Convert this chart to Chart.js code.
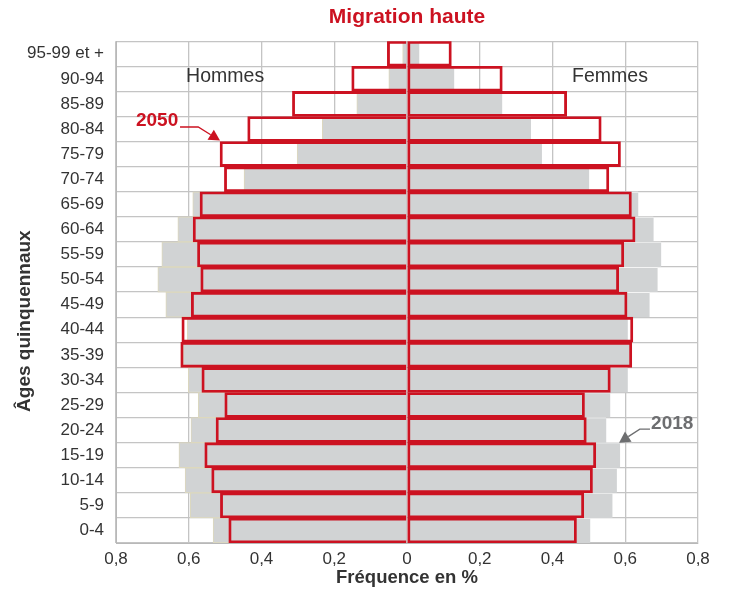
<!DOCTYPE html>
<html>
<head>
<meta charset="utf-8">
<script src="https://cdn.jsdelivr.net/npm/chart.js@4"></script>
<style>
  html, body { margin: 0; padding: 0; background: #fff; }
  #wrap { width: 729px; height: 592px; }
</style>
</head>
<body>
<div id="wrap"><canvas id="pyramid" width="729" height="592"></canvas></div>
<script>
// age groups, bottom to top
const ages = ['0-4', '5-9', '10-14', '15-19', '20-24', '25-29', '30-34', '35-39', '40-44', '45-49',
  '50-54', '55-59', '60-64', '65-69', '70-74', '75-79', '80-84', '85-89', '90-94', '95-99 et +'];

// share of the population, in %
const hommes2018 = [0.533, 0.596, 0.610, 0.627, 0.594, 0.574, 0.601, 0.616, 0.604, 0.663,
  0.685, 0.674, 0.630, 0.589, 0.448, 0.302, 0.233, 0.138, 0.050, 0.012];
const femmes2018 = [0.504, 0.565, 0.577, 0.586, 0.548, 0.559, 0.607, 0.612, 0.607, 0.667,
  0.689, 0.699, 0.678, 0.636, 0.501, 0.371, 0.341, 0.262, 0.130, 0.034];
const hommes2050 = [0.490, 0.513, 0.537, 0.556, 0.525, 0.501, 0.564, 0.622, 0.619, 0.593,
  0.567, 0.576, 0.588, 0.569, 0.502, 0.514, 0.438, 0.315, 0.152, 0.054];
const femmes2050 = [0.466, 0.486, 0.510, 0.519, 0.493, 0.488, 0.559, 0.618, 0.621, 0.605,
  0.582, 0.596, 0.627, 0.617, 0.555, 0.587, 0.534, 0.439, 0.262, 0.122];

const xTicks = [-0.8, -0.6, -0.4, -0.2, 0, 0.2, 0.4, 0.6, 0.8];

const RED = '#cc1221';
const GREY = '#d1d3d4';
const TEXT = '#333333';
const FONT = "'Liberation Sans', Arial, sans-serif";

Chart.defaults.font.family = FONT;
Chart.defaults.color = TEXT;

// side labels, y title and the two little arrows
const notes = {
  id: 'notes',
  afterDatasetsDraw(chart) {
    const ctx = chart.ctx;
    const x = chart.scales.x, y = chart.scales.y;
    const half = Math.abs(y.getPixelForValue(0) - y.getPixelForValue(1)) / 2;
    ctx.save();
    ctx.textBaseline = 'middle';
    ctx.textAlign = 'center';
    ctx.fillStyle = TEXT;
    ctx.font = '19.5px ' + FONT;
    ctx.fillText('Hommes', x.getPixelForValue(-0.5), y.getPixelForValue(18) - 2);
    ctx.fillText('Femmes', x.getPixelForValue(0.558), y.getPixelForValue(18) - 2);

    // y axis title
    ctx.save();
    ctx.translate(25, (y.top + y.bottom) / 2 + 29);
    ctx.rotate(-Math.PI / 2);
    ctx.font = 'bold 19px ' + FONT;
    ctx.fillText('Âges quinquennaux', 0, 0);
    ctx.restore();

    function arrow(color, x0, y0, xm, xt, yt) {
      ctx.strokeStyle = color;
      ctx.fillStyle = color;
      ctx.lineWidth = 1.3;
      const ang = Math.atan2(yt - y0, xt - xm);
      const bx = xt - 11 * Math.cos(ang), by = yt - 11 * Math.sin(ang);
      ctx.beginPath();
      ctx.moveTo(x0, y0);
      ctx.lineTo(xm, y0);
      ctx.lineTo(bx, by);
      ctx.stroke();
      ctx.beginPath();
      ctx.moveTo(xt, yt);
      ctx.lineTo(bx + 6 * Math.sin(ang), by - 6 * Math.cos(ang));
      ctx.lineTo(bx - 6 * Math.sin(ang), by + 6 * Math.cos(ang));
      ctx.closePath();
      ctx.fill();
    }

    // 2050
    const y2050 = y.getPixelForValue(16) - 8;
    ctx.font = 'bold 19px ' + FONT;
    ctx.textAlign = 'right';
    ctx.fillStyle = RED;
    ctx.fillText('2050', x.getPixelForValue(-0.629), y2050);
    arrow(RED, x.getPixelForValue(-0.624), y2050 + 6, x.getPixelForValue(-0.574),
      x.getPixelForValue(-0.514), y.getPixelForValue(16) + half - 1);

    // 2018
    const y2018 = y.getPixelForValue(4) - 6;
    ctx.textAlign = 'left';
    ctx.fillStyle = '#6d6e70';
    ctx.fillText('2018', x.getPixelForValue(0.671), y2018);
    arrow('#6d6e70', x.getPixelForValue(0.668), y2018 + 5, x.getPixelForValue(0.64),
      x.getPixelForValue(0.583), y.getPixelForValue(4) + half);
    ctx.restore();
  }
};

new Chart(document.getElementById('pyramid'), {
  type: 'bar',
  data: {
    labels: ages,
    datasets: [
      { label: 'Hommes 2050', data: hommes2050.map(v => -v), order: 0, grouped: false,
        backgroundColor: 'rgba(0,0,0,0)', borderColor: RED, borderWidth: 2.2, borderSkipped: 'start' },
      { label: 'Femmes 2050', data: femmes2050, order: 0, grouped: false,
        backgroundColor: 'rgba(0,0,0,0)', borderColor: RED, borderWidth: 2.2, borderSkipped: false },
      { label: 'Hommes 2018', data: hommes2018.map(v => -v), order: 1, grouped: false,
        backgroundColor: GREY, borderColor: '#ddd8bd', borderWidth: 1, borderSkipped: 'start' },
      { label: 'Femmes 2018', data: femmes2018, order: 1, grouped: false,
        backgroundColor: GREY, borderColor: '#ffffff', borderWidth: { top: 1, bottom: 0, right: 0, left: 0 }, borderSkipped: 'start' }
    ]
  },
  options: {
    indexAxis: 'y',
    responsive: false,
    animation: false,
    barPercentage: 1,
    categoryPercentage: 1,
    layout: { padding: { left: 10, right: 31, top: 0, bottom: 0 } },
    plugins: {
      legend: { display: false },
      tooltip: { enabled: false },
      title: {
        display: true,
        text: 'Migration haute',
        color: RED,
        fullSize: false,
        font: { size: 21, weight: 'bold' },
        padding: { top: 5, bottom: 11 }
      }
    },
    scales: {
      x: {
        min: -0.8,
        max: 0.8,
        afterBuildTicks: s => { s.ticks = xTicks.map(v => ({ value: v })); },
        afterFit: s => { s.height = 49; },
        grid: { color: '#c4c4c4', lineWidth: 1.3, drawTicks: false },
        border: { color: '#b8b8b8' },
        ticks: {
          padding: 6,
          font: { size: 17 },
          color: TEXT,
          callback: v => (Math.abs(v) < 1e-9 ? '0' : Math.abs(v).toFixed(1).replace('.', ','))
        },
        title: {
          display: true,
          text: 'Fréquence en %',
          font: { size: 18.5, weight: 'bold' },
          color: TEXT,
          padding: { top: 0, bottom: 3 }
        }
      },
      y: {
        reverse: true,
        afterFit: s => { s.width = 106; },
        grid: { color: '#c4c4c4', lineWidth: 1.3, drawTicks: false, offset: true },
        border: { color: '#b8b8b8' },
        ticks: { padding: 12, font: { size: 17 }, color: TEXT, autoSkip: false }
      }
    }
  },
  plugins: [notes]
});
</script>
</body>
</html>
